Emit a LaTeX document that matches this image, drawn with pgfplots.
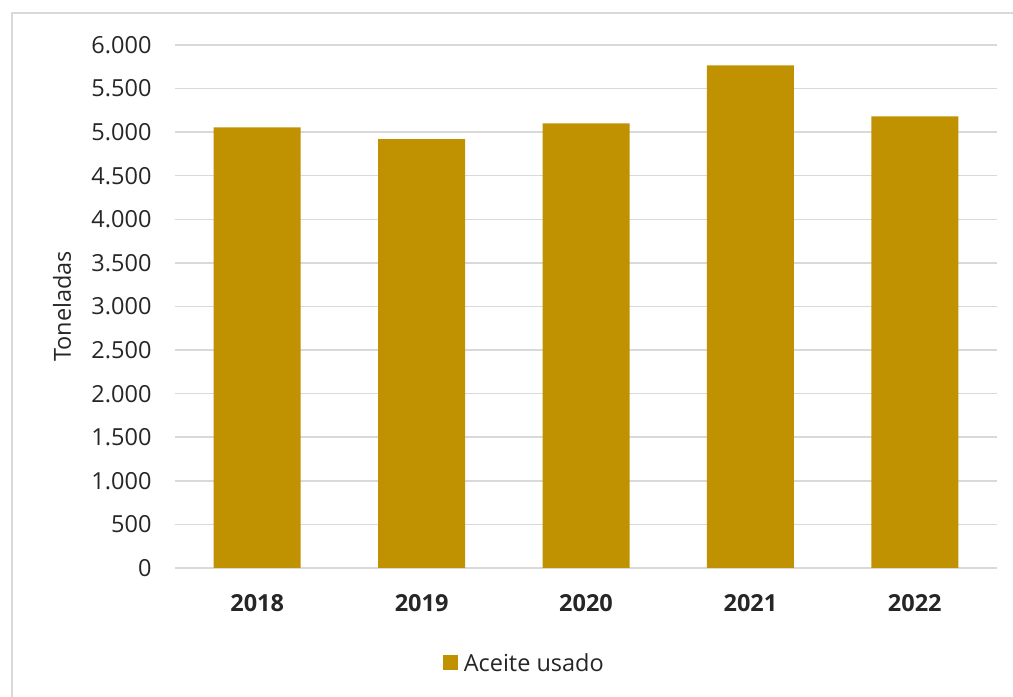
\documentclass[border=0pt]{standalone}
\usepackage{pgfplots}
\pgfplotsset{compat=1.18}
\usepackage{fontspec}
\setmainfont{Open Sans}
\definecolor{barc}{RGB}{192,145,0}
\definecolor{gridc}{RGB}{217,217,217}
\definecolor{txt}{RGB}{38,38,38}
\begin{document}
\begin{tikzpicture}[x=1bp,y=1bp]
\path[use as bounding box] (0,0) rectangle (1013,697);
\draw[gridc, line width=1.5bp] (12,-5) -- (12,684) -- (1020,684);
\begin{axis}[
  at={(175bp,129bp)}, anchor=south west,
  scale only axis, width=822bp, height=523bp,
  xmin=-0.5, xmax=4.5, ymin=0, ymax=6000,
  ybar, bar width=87bp,
  ytick={0,500,...,6000},
  xtick=data, xticklabels={2018,2019,2020,2021,2022},
  axis lines*=left, axis line style={draw=none},
  major tick length=0pt,
  ymajorgrids, grid style={gridc, line width=1.5bp},
  /pgf/number format/.cd, 1000 sep={.}, assume math mode=true, /pgfplots/.cd,
  tick label style={font=\fontsize{23.5bp}{28bp}\selectfont, text=txt},
  yticklabel style={xshift=-20bp},
  xticklabel style={font=\fontsize{23.5bp}{28bp}\selectfont\bfseries, yshift=-23bp},
  ylabel={Toneladas},
  ylabel style={font=\fontsize{23.5bp}{28bp}\selectfont, text=txt, at={(axis description cs:-0.1375,0.5)}, anchor=center, rotate=0},
  legend style={at={(axis description cs:0.425,-0.182)}, anchor=center, draw=none, fill=none, font=\fontsize{23.5bp}{28bp}\selectfont, text=txt},
  legend image code/.code={\fill[barc] (0bp,-7bp) rectangle (15bp,8bp);},
]
\addplot[fill=barc, draw=none] coordinates {(0,5055) (1,4920) (2,5100) (3,5765) (4,5180)};
\addlegendentry{\,Aceite usado}
\end{axis}
\end{tikzpicture}
\end{document}
